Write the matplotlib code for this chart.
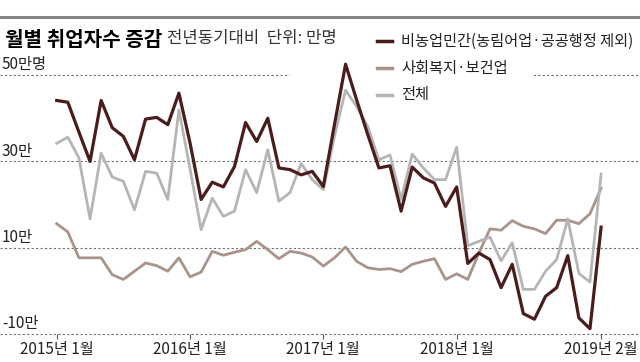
import matplotlib
matplotlib.use("Agg")
from matplotlib import pyplot as plt
from matplotlib.patches import Rectangle

plt.rcParams['font.family'] = ['Noto Sans CJK KR', 'DejaVu Sans']

# monthly change vs. same month of previous year (unit: 10,000 people), 2015-01 .. 2019-02
nonfarm_private = [44.1, 43.7, 36.8, 30.0, 44.1, 37.8, 35.8, 30.4, 39.8, 40.2,
                   38.5, 45.8, 34.3, 21.2, 25.2, 24.1, 28.8, 39.0, 34.6, 40.0,
                   28.5, 28.1, 26.9, 27.7, 24.2, 38.5, 52.5, 44.2, 36.2, 28.5,
                   29.0, 18.5, 28.7, 26.2, 25.0, 19.6, 24.1, 6.4, 8.8, 7.3,
                   0.8, 6.2, -5.2, -6.5, -1.2, 0.8, 8.2, -6.2, -8.7, 14.8]
welfare_health = [15.6, 13.7, 7.7, 7.7, 7.7, 3.8, 2.7, 4.6, 6.5, 5.9,
                  4.6, 7.7, 3.3, 4.4, 9.2, 8.3, 9.0, 9.6, 11.5, 9.6,
                  7.5, 9.2, 8.8, 7.9, 5.8, 7.7, 10.2, 6.9, 5.4, 5.0,
                  5.2, 4.5, 6.2, 6.9, 7.5, 2.7, 4.0, 2.7, 8.8, 14.4,
                  14.1, 16.3, 15.0, 14.4, 13.3, 16.4, 16.4, 15.6, 17.9, 23.8]
total = [34.2, 35.6, 30.8, 16.7, 31.9, 26.4, 25.4, 18.8, 27.7, 27.3,
         21.2, 41.9, 28.3, 14.2, 21.5, 17.3, 18.5, 28.1, 22.8, 32.7,
         20.8, 22.8, 29.5, 25.8, 23.5, 35.8, 46.5, 42.7, 38.1, 30.4,
         31.5, 21.2, 31.7, 28.5, 25.8, 25.8, 33.3, 10.5, 11.5, 12.5,
         7.0, 11.2, 0.4, 0.4, 4.6, 7.3, 16.7, 4.1, 2.1, 27.1]

series_labels = ["비농업민간(농림어업·공공행정 제외)", "사회복지·보건업", "전체"]
series_colors = ["#4b1c1c", "#a9948b", "#b5b5b5"]

tick_months = [0, 12, 24, 36, 49]
tick_labels = ["2015년 1월", "2016년 1월", "2017년 1월", "2018년 1월", "2019년 2월"]
grid_values = [-10, 10, 30, 50]
grid_labels = ["-10만", "10만", "30만", "50만명"]


def fy(py):
    # pixel row from top -> figure fraction
    return 1 - py / 362


def plotter():
    fig = plt.figure(figsize=(6.4, 3.62), dpi=100)
    ax = fig.add_axes([0, 0, 1, 1])
    ax.axis('off')
    ax.set_xlim(-56.7 / 11.11, (640 - 56.7) / 11.11)
    ax.set_ylim(-16.4, 67.35)

    months = list(range(len(total)))

    # dashed grid
    for v in grid_values:
        ax.axhline(v, color='#707070', lw=0.8, ls=(0, (2, 2)), zorder=1)
    # white area behind the legend hides part of the top gridline
    ax.add_patch(Rectangle((290 / 640, fy(90)), (532 - 290) / 640, 30 / 362,
                           transform=ax.transAxes, color='white', zorder=1.5))

    for v, lab in zip(grid_values, grid_labels):
        ax.text(0.003, v + 2.4, lab, transform=ax.get_yaxis_transform(),
                fontsize=11, color='#222222', va='center', ha='left')

    # bottom ticks and labels
    ax.vlines(tick_months, -11.0, -10, color='#555555', lw=0.8)
    for m, lab in zip(tick_months, tick_labels):
        ax.text(m, -13.6, lab, fontsize=11, color='#222222', ha='center', va='center')

    # lines
    ax.plot(months, welfare_health, color=series_colors[1], lw=2.0, zorder=3)
    ax.plot(months, total, color=series_colors[2], lw=2.0, zorder=3)
    ax.plot(months, nonfarm_private, color=series_colors[0], lw=2.3, zorder=4)

    # header
    ax.plot([0, 1], [fy(17), fy(17)], transform=ax.transAxes, color='#858585', lw=2.2)
    fig.text(5 / 640, fy(39), "월별 취업자수 증감", fontsize=14.5, fontweight='bold',
             va='center', ha='left')
    fig.text(167 / 640, fy(39), "전년동기대비  단위: 만명", fontsize=12,
             color='#333333', va='center', ha='left')

    # legend
    for i, (lab, col) in enumerate(zip(series_labels, series_colors)):
        y = fy(41 + 27 * i)
        ax.plot([377 / 640, 392 / 640], [y, y], transform=ax.transAxes, color=col, lw=2.5)
        fig.text(401 / 640, y, lab, fontsize=11, color='#222222', va='center', ha='left')

    fig.savefig('out.png', dpi=100)


if __name__ == '__main__':
    plotter()
